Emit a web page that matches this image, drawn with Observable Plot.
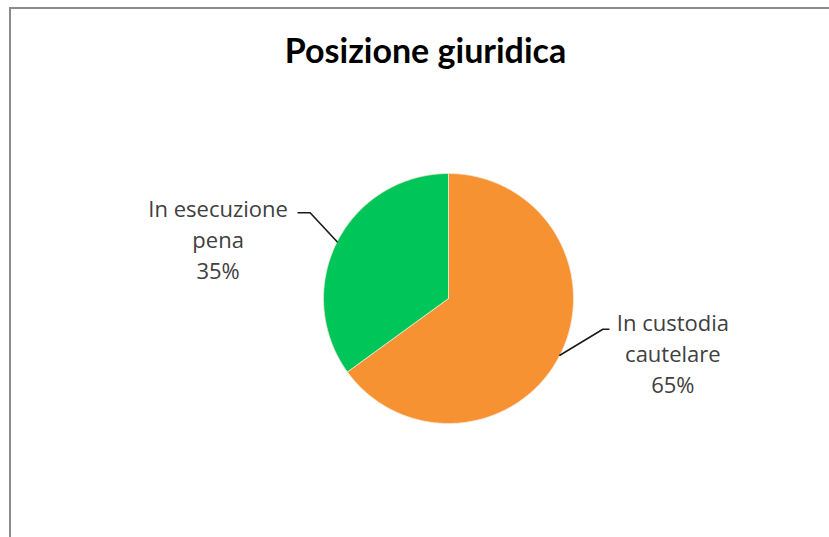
<!DOCTYPE html>
<html><head><meta charset="utf-8">
<script src="https://cdn.jsdelivr.net/npm/d3@7"></script>
<script src="https://cdn.jsdelivr.net/npm/@observablehq/plot@0.6"></script>
<style>
body{margin:0;background:#fff;}
#wrap{position:relative;width:829px;height:537px;overflow:hidden;}
#frame{position:absolute;left:9px;top:7px;right:-10px;bottom:-10px;border-left:2px solid #8c8c8c;border-top:2px solid #8c8c8c;pointer-events:none;}
#wrap svg{position:absolute;left:0;top:0;}
</style></head><body><div id="wrap"><div id="frame"></div></div>
<script>
const title = "Posizione giuridica";
const categories = ["In custodia cautelare", "In esecuzione pena"];
const labelLines = [["In custodia", "cautelare"], ["In esecuzione", "pena"]];
const values = [65, 35];
const colors = ["#F79232", "#00C65A"];

// layout (pixels)
const W = 829, H = 537, CX = 448, CY = 298, R = 125;
// leader offsets in pixels: [elbow dx, elbow dy, end dx]
const leaderOff = [[43, -26, 6], [-27, -29, -12]];
const textOff = [[64, 23.3], [-80, 25.3]];

const total = d3.sum(values);
const arcs = d3.pie().sort(null).value(d => d)(values);
const slicePts = [];
const leaders = [];
const labels = [];
arcs.forEach((a, i) => {
  const cat = categories[i];
  slicePts.push({x: 0, y: 0, cat});
  const n = Math.max(2, Math.ceil((a.endAngle - a.startAngle) / 0.01));
  for (let k = 0; k <= n; k++) {
    const t = a.startAngle + (a.endAngle - a.startAngle) * k / n;
    slicePts.push({x: Math.sin(t), y: Math.cos(t), cat});
  }
  slicePts.push({x: 0, y: 0, cat});
  const m = (a.startAngle + a.endAngle) / 2;
  const ex = Math.sin(m), ey = Math.cos(m);
  const [odx, ody, edx] = leaderOff[i];
  const bx = ex + odx / R, by = ey - ody / R;
  const fx = bx + edx / R;
  leaders.push({x: ex, y: ey, cat}, {x: bx, y: by, cat}, {x: fx, y: by, cat});
  const pct = Math.round(values[i] / total * 100) + "%";
  labels.push({x: fx, y: by, text: [...labelLines[i], pct].join("\n"), dx: textOff[i][0], dy: textOff[i][1]});
});

const chart = Plot.plot({
  width: W, height: H,
  margin: 0,
  x: {domain: [-CX / R, (W - CX) / R], axis: null},
  y: {domain: [-(H - CY) / R, CY / R], axis: null},
  color: {domain: categories, range: colors},
  style: {background: "transparent", overflow: "visible"},
  marks: [
    Plot.line(slicePts, {x: "x", y: "y", z: "cat", fill: "cat", stroke: "#fbe9d8", strokeWidth: 0.8, curve: "linear"}),
    Plot.line(leaders, {x: "x", y: "y", z: "cat", stroke: "#1a1a1a", strokeWidth: 1.6}),
    ...labels.map(l => Plot.text([l], {x: "x", y: "y", text: "text", dx: l.dx, dy: l.dy, textAnchor: "middle", lineAnchor: "middle", lineHeight: 1.41, fontSize: 22, fontFamily: "Open Sans", fill: "#404040"})),
    Plot.text([title], {frameAnchor: "top", text: d => d, dx: 10.5, dy: 62, lineAnchor: "bottom", fontSize: 34, fontWeight: "bold", fontFamily: "Lato", fill: "#000"})
  ]
});
document.getElementById("wrap").prepend(chart);
</script></body></html>
